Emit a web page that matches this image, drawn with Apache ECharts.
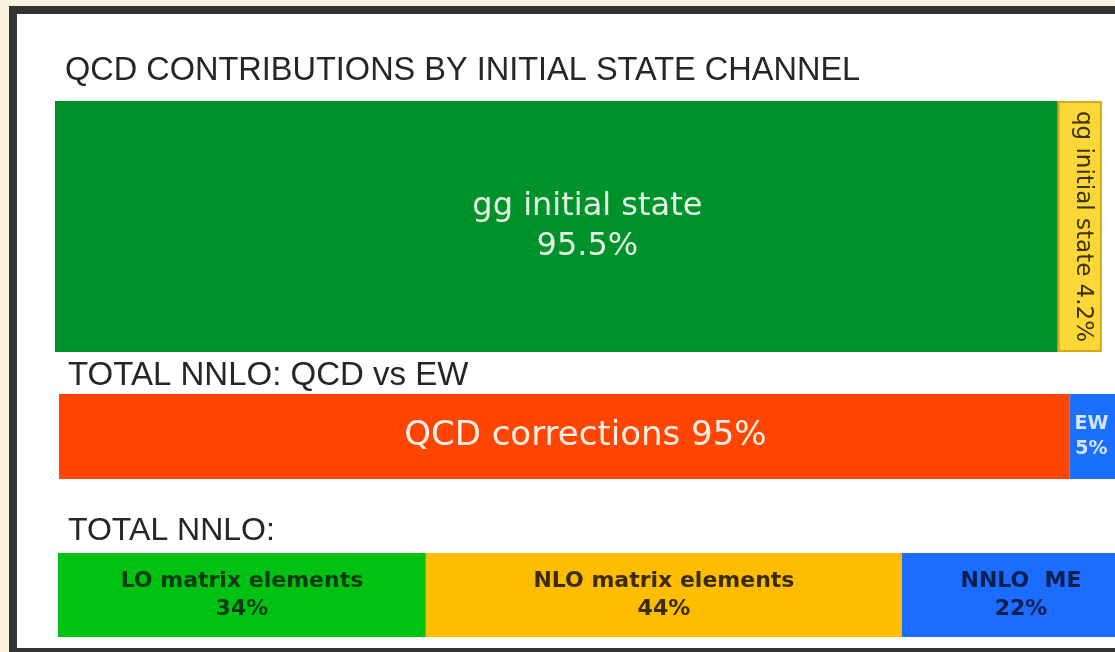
<!DOCTYPE html>
<html>
<head>
<meta charset="utf-8">
<title>NNLO contributions</title>
<script src="https://cdn.jsdelivr.net/npm/echarts@6/dist/echarts.min.js"></script>
<style>
  html, body { margin: 0; padding: 0; background: #f8f3df; }
  #main { width: 1115px; height: 652px; }
</style>
</head>
<body>
<div id="main"></div>
<script>
// panel titles
const panelTitles = [
  'QCD CONTRIBUTIONS BY INITIAL STATE CHANNEL',
  'TOTAL NNLO: QCD vs EW',
  'TOTAL NNLO:'
]

// panel 1: initial state channels
const channelNames = ['gg initial state', 'qg initial state']
const channelShares = [95.5, 4.2]

// panel 2: QCD vs EW
const qcdEwNames = ['QCD corrections', 'EW']
const qcdEwShares = [95, 5]

// panel 3: perturbative orders
const orderNames = ['LO matrix elements', 'NLO matrix elements', 'NNLO  ME']
const orderShares = [34, 44, 22]

const chart = echarts.init(document.getElementById('main'))

const labelFont = 'DejaVu Sans'

// one stacked bar segment
const segment = (idx, name, value, color, label, extra) => Object.assign({
  type: 'bar',
  name: name,
  stack: 'p' + idx,
  xAxisIndex: idx,
  yAxisIndex: idx,
  barWidth: '100%',
  data: [value],
  itemStyle: { color: color },
  label: Object.assign({ show: true, position: 'inside', fontFamily: labelFont }, label),
  emphasis: { disabled: true },
  silent: true
}, extra || {})

const titleStyle = size => ({
  fontFamily: 'Liberation Sans', fontSize: size, fontWeight: 'normal', color: '#262626'
})

const options = {
  backgroundColor: '#f8f3df',
  animation: false,
  graphic: [
    { type: 'rect', z: -10, shape: { x: 9, y: 6, width: 1120, height: 660 }, style: { fill: '#333333' } },
    { type: 'rect', z: -9, shape: { x: 17, y: 14, width: 1110, height: 634 }, style: { fill: '#ffffff' } }
  ],
  title: [
    { text: panelTitles[0], left: 65, top: 55, padding: 0, textStyle: titleStyle(32.5) },
    { text: panelTitles[1], left: 68, top: 359, padding: 0, textStyle: titleStyle(33) },
    { text: panelTitles[2], left: 68, top: 515, padding: 0, textStyle: titleStyle(32) }
  ],
  // bars run past the right edge of the picture, so keep grids unclamped
  grid: [
    { left: 55, top: 101, width: 1050, height: 251, outerBoundsMode: 'none' },
    { left: 59, top: 394, width: 1064, height: 85, outerBoundsMode: 'none' },
    { left: 58, top: 553, width: 1082, height: 84, outerBoundsMode: 'none' }
  ],
  xAxis: [0, 1, 2].map(i => ({ gridIndex: i, type: 'value', min: 0, max: 100, show: false })),
  yAxis: [0, 1, 2].map(i => ({ gridIndex: i, type: 'category', data: [''], show: false })),
  series: [
    segment(0, channelNames[0], channelShares[0], '#00922a', {
      formatter: p => p.seriesName + '\n' + p.value + '%',
      color: '#e4f3e4', fontSize: 32, lineHeight: 40, offset: [31, 0]
    }),
    segment(0, channelNames[1], channelShares[1], '#fdd637', {
      formatter: p => p.seriesName + ' ' + p.value + '%',
      rotate: -90, color: '#3a3200', fontSize: 23, offset: [0, -3]
    }, {
      itemStyle: { color: '#fdd637', borderColor: '#d8a816', borderWidth: 2 }
    }),

    segment(1, qcdEwNames[0], qcdEwShares[0], '#ff4500', {
      formatter: p => p.seriesName + ' ' + p.value + '%',
      color: '#fff0ea', fontSize: 34, offset: [21, 0]
    }),
    segment(1, qcdEwNames[1], qcdEwShares[1], '#1c70ff', {
      formatter: p => p.seriesName + '\n' + p.value + '%',
      color: '#d4e4ff', fontSize: 19, fontWeight: 'bold', lineHeight: 25, offset: [-5, 0]
    }),

    segment(2, orderNames[0], orderShares[0], '#00c212', {
      formatter: p => p.seriesName + '\n' + p.value + '%',
      color: '#0b3a0e', fontSize: 22, fontWeight: 'bold', lineHeight: 28
    }),
    segment(2, orderNames[1], orderShares[1], '#ffbd00', {
      formatter: p => p.seriesName + '\n' + p.value + '%',
      color: '#3b2c00', fontSize: 22, fontWeight: 'bold', lineHeight: 28
    }),
    segment(2, orderNames[2], orderShares[2], '#1a6dff', {
      formatter: p => p.seriesName + '\n' + p.value + '%',
      color: '#0a1f4d', fontSize: 22, fontWeight: 'bold', lineHeight: 28
    })
  ]
}

chart.setOption(options)
</script>
</body>
</html>
